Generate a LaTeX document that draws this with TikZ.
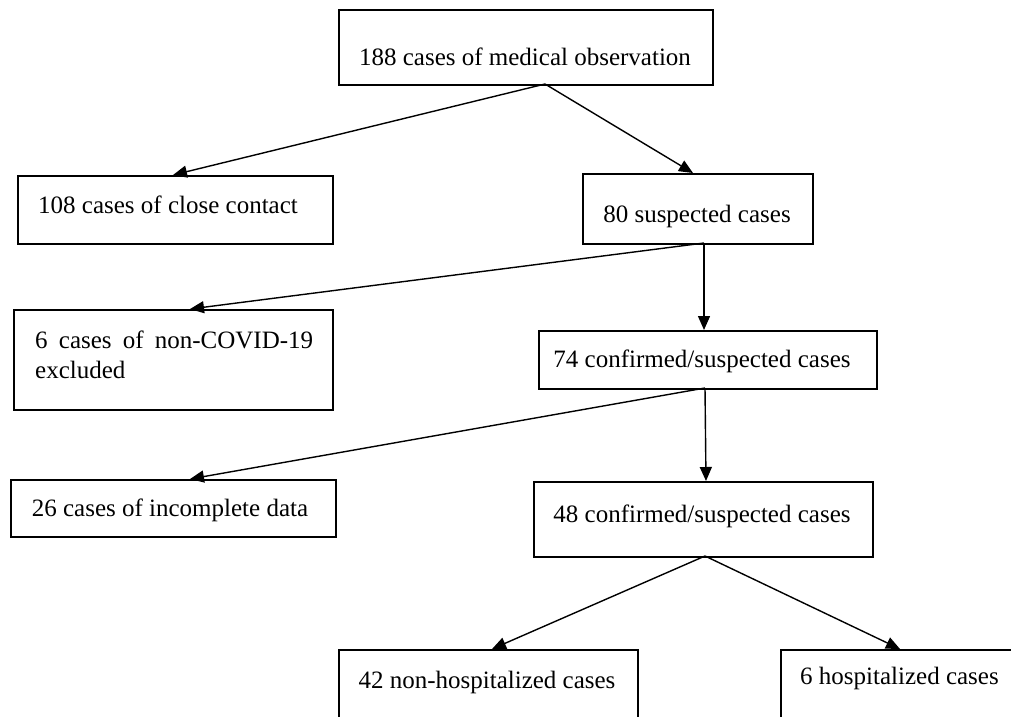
\documentclass[tikz,border=0pt]{standalone}
\usepackage{fontspec}
\setmainfont{Liberation Serif}
\usetikzlibrary{arrows.meta}
\begin{document}
\begin{tikzpicture}[x=1pt,y=-1pt,
  box/.style={draw, line width=1.5pt, inner sep=0pt, anchor=north west},
  lbl/.style={font=\fontsize{25}{30}\selectfont, inner sep=0pt, anchor=base},
  lblw/.style={lbl, anchor=base west},
  arr/.style={line width=1.4pt, -{Triangle[length=14pt,width=12pt]}}]
\useasboundingbox (0,0) rectangle (1011,716);
\clip (0,0) rectangle (1011,716);
% boxes
\node[box, minimum width=374pt, minimum height=75pt] (b1) at (338,9) {};
\node[box, minimum width=315pt, minimum height=68pt] (b2) at (17,175) {};
\node[box, minimum width=230pt, minimum height=70pt] (b3) at (582,173) {};
\node[box, minimum width=319pt, minimum height=100pt] (b4) at (13,309) {};
\node[box, minimum width=338pt, minimum height=58pt] (b5) at (538,330) {};
\node[box, minimum width=325pt, minimum height=57pt] (b6) at (10,479) {};
\node[box, minimum width=339pt, minimum height=75pt] (b7) at (533,481) {};
\node[box, minimum width=299pt, minimum height=120pt] (b8) at (338,649) {};
\node[box, minimum width=260pt, minimum height=120pt] (b9) at (780,649) {};
% texts
\node[lbl] (t1) at (525,65) {188 cases of medical observation};
\node[lblw] (t2) at (38,213) {108 cases of close contact};
\node[lbl] (t3) at (697,222) {80 suspected cases};
\node[lblw] (t4a) at (35,348) {\makebox[278pt][s]{6 cases of non-COVID-19}};
\node[lblw] (t4b) at (35,378) {excluded};
\node[lbl] (t5) at (702,367) {74 confirmed/suspected cases};
\node[lbl] (t6) at (170,516) {26 cases of incomplete data};
\node[lbl] (t7) at (702,522) {48 confirmed/suspected cases};
\node[lbl] (t8) at (487,688) {42 non-hospitalized cases};
\node[lblw] (t9) at (800,684) {6 hospitalized cases};
% connector end points on box edges
\coordinate (s1) at (545,84);
\coordinate (e2) at (173,175);
\coordinate (e3) at (693,173);
\coordinate (s3) at (704,243);
\coordinate (e4) at (190,309);
\coordinate (e5) at (704,330);
\coordinate (s5) at (705,388);
\coordinate (e6) at (190,479);
\coordinate (e7) at (706,481);
\coordinate (s7) at (705,556);
\coordinate (e8) at (492,649);
\coordinate (e9) at (900,649);
% connectors
\draw[arr] (s1) -- (e2);
\draw[arr] (s1) -- (e3);
\draw[arr] (s3) -- (e4);
\draw[arr] (s3) -- (e5);
\draw[arr] (s5) -- (e6);
\draw[arr] (s5) -- (e7);
\draw[arr] (s7) -- (e8);
\draw[arr] (s7) -- (e9);
\end{tikzpicture}
\end{document}
